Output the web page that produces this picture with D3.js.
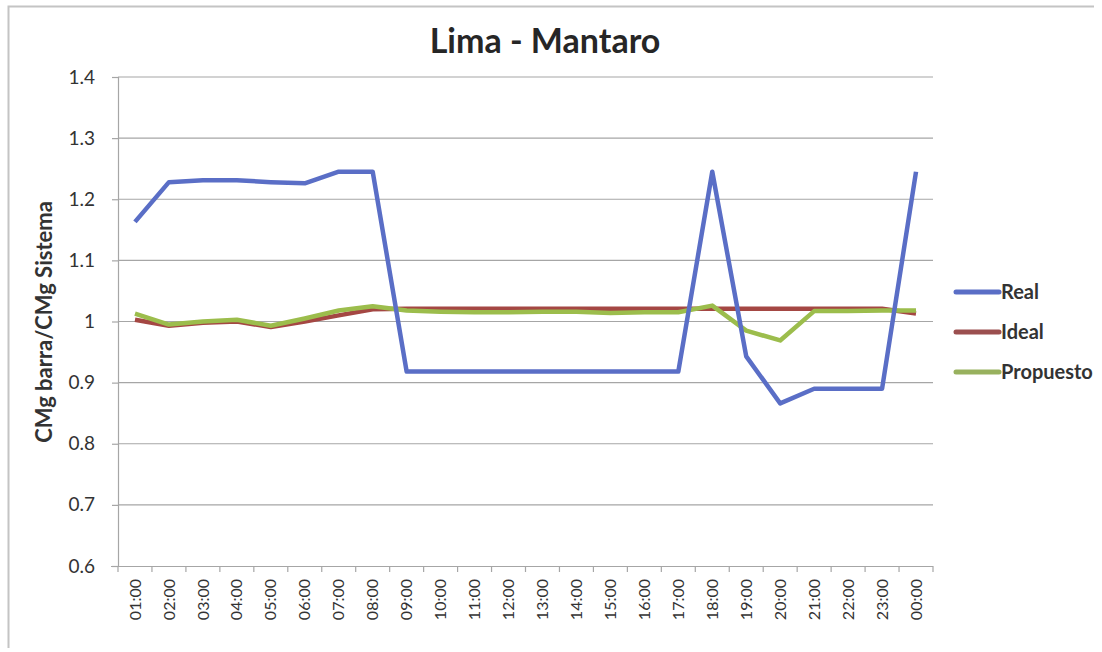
<!DOCTYPE html>
<html>
<head>
<meta charset="utf-8">
<script src="https://cdn.jsdelivr.net/npm/d3@7"></script>
<style>
  html, body { margin: 0; padding: 0; background: #fff; }
  svg { display: block; font-family: Lato, "Open Sans", sans-serif; }
</style>
</head>
<body>
<svg id="chart" width="1102" height="652"></svg>
<script>
// Hourly ratio of bus marginal cost to system marginal cost
const hours = ["01:00","02:00","03:00","04:00","05:00","06:00","07:00","08:00","09:00","10:00","11:00","12:00",
               "13:00","14:00","15:00","16:00","17:00","18:00","19:00","20:00","21:00","22:00","23:00","00:00"];
const real = [1.163,1.228,1.231,1.231,1.228,1.226,1.245,1.245,0.918,0.918,0.918,0.918,
              0.918,0.918,0.918,0.918,0.918,1.245,0.943,0.866,0.890,0.890,0.890,1.245];
const ideal = [1.003,0.993,0.998,1.000,0.991,1.000,1.010,1.020,1.021,1.021,1.021,1.021,
               1.021,1.021,1.021,1.021,1.021,1.021,1.021,1.021,1.021,1.021,1.021,1.013];
const propuesto = [1.013,0.995,1.000,1.003,0.993,1.005,1.018,1.025,1.018,1.016,1.015,1.015,
                   1.016,1.016,1.014,1.015,1.015,1.026,0.985,0.969,1.017,1.017,1.018,1.018];
const seriesNames = ["Real","Ideal","Propuesto"];
const yTicks = [0.6,0.7,0.8,0.9,1.0,1.1,1.2,1.3,1.4];

const colors = { Real: "#5a6ec6", Ideal: "#a44743", Propuesto: "#9cbd4c" };
const legendColors = { Real: "#5a6ec6", Ideal: "#9b4f4f", Propuesto: "#98b15e" };

const svg = d3.select("#chart");
const plot = { left: 118, right: 933, top: 77, bottom: 566 };

// outer frame (left and top edges)
svg.append("path")
  .attr("d", "M8.5,648 L8.5,6.5 L1094,6.5")
  .attr("fill", "none").attr("stroke", "#c4c4c4").attr("stroke-width", 2);

const x = d3.scaleBand().domain(hours).range([plot.left, plot.right]);
const y = d3.scaleLinear().domain([0.6, 1.4]).range([plot.bottom, plot.top]);

// horizontal gridlines
svg.append("g").selectAll("line").data(yTicks.slice(1)).join("line")
  .attr("x1", plot.left).attr("x2", plot.right)
  .attr("y1", d => y(d)).attr("y2", d => y(d))
  .attr("stroke", "#a6a6a6").attr("stroke-width", 1.2);

// y axis
const yAxis = svg.append("g").attr("transform", `translate(${plot.left},0)`)
  .call(d3.axisLeft(y).tickValues(yTicks).tickSize(6).tickPadding(17)
        .tickFormat(d => d === 1 ? "1" : d3.format(".1f")(d)));
yAxis.select(".domain").attr("stroke", "#a6a6a6").attr("stroke-width", 1.2);
yAxis.selectAll(".tick line").attr("stroke", "#a6a6a6").attr("stroke-width", 1.2);
yAxis.selectAll(".tick text").attr("fill", "#333").attr("font-size", 19)
  .attr("font-family", "Lato, sans-serif");

// x axis with ticks between categories
const xAxis = svg.append("g").attr("transform", `translate(0,${plot.bottom})`)
  .call(d3.axisBottom(x).tickSize(0).tickPadding(0));
xAxis.select(".domain").attr("stroke", "#a6a6a6").attr("stroke-width", 1.2)
  .attr("d", `M${plot.left - 7},0.5H${plot.right}`);
svg.append("g").selectAll("line").data(d3.range(hours.length + 1)).join("line")
  .attr("x1", i => plot.left + i * x.step()).attr("x2", i => plot.left + i * x.step())
  .attr("y1", plot.bottom).attr("y2", plot.bottom + 6)
  .attr("stroke", "#a6a6a6").attr("stroke-width", 1.2);
xAxis.selectAll(".tick text")
  .attr("transform", "rotate(-90)")
  .attr("text-anchor", "end")
  .attr("x", -13).attr("y", 0).attr("dy", "0.35em")
  .attr("fill", "#333").attr("font-size", 16)
  .attr("font-family", "Lato, sans-serif");

// series lines
const line = d3.line().x((d, i) => x(hours[i]) + x.bandwidth() / 2).y(d => y(d));
const seriesData = { Real: real, Ideal: ideal, Propuesto: propuesto };
["Ideal", "Propuesto", "Real"].forEach(name => {
  svg.append("path").datum(seriesData[name])
    .attr("d", line)
    .attr("fill", "none")
    .attr("stroke", colors[name])
    .attr("stroke-width", 4.5)
    .attr("stroke-linejoin", "round");
});

// title
svg.append("text").attr("x", 545).attr("y", 53).attr("text-anchor", "middle")
  .attr("font-size", 34).attr("font-weight", "bold").attr("fill", "#262626")
  .text("Lima - Mantaro");

// y axis title
svg.append("text").attr("transform", "translate(52,322) rotate(-90)")
  .attr("text-anchor", "middle").attr("font-size", 22).attr("font-weight", "bold")
  .attr("fill", "#333").text("CMg barra/CMg Sistema");

// legend
const legend = svg.append("g").selectAll("g").data(seriesNames).join("g")
  .attr("transform", (d, i) => `translate(956,${292 + i * 40})`);
legend.append("line").attr("x1", 0).attr("x2", 43).attr("y1", 0).attr("y2", 0)
  .attr("stroke", d => legendColors[d]).attr("stroke-width", 5).attr("stroke-linecap", "round");
legend.append("text").attr("x", 45).attr("y", 0).attr("dy", "0.35em")
  .attr("font-size", 20).attr("font-weight", "bold").attr("fill", "#333")
  .text(d => d);
</script>
</body>
</html>
